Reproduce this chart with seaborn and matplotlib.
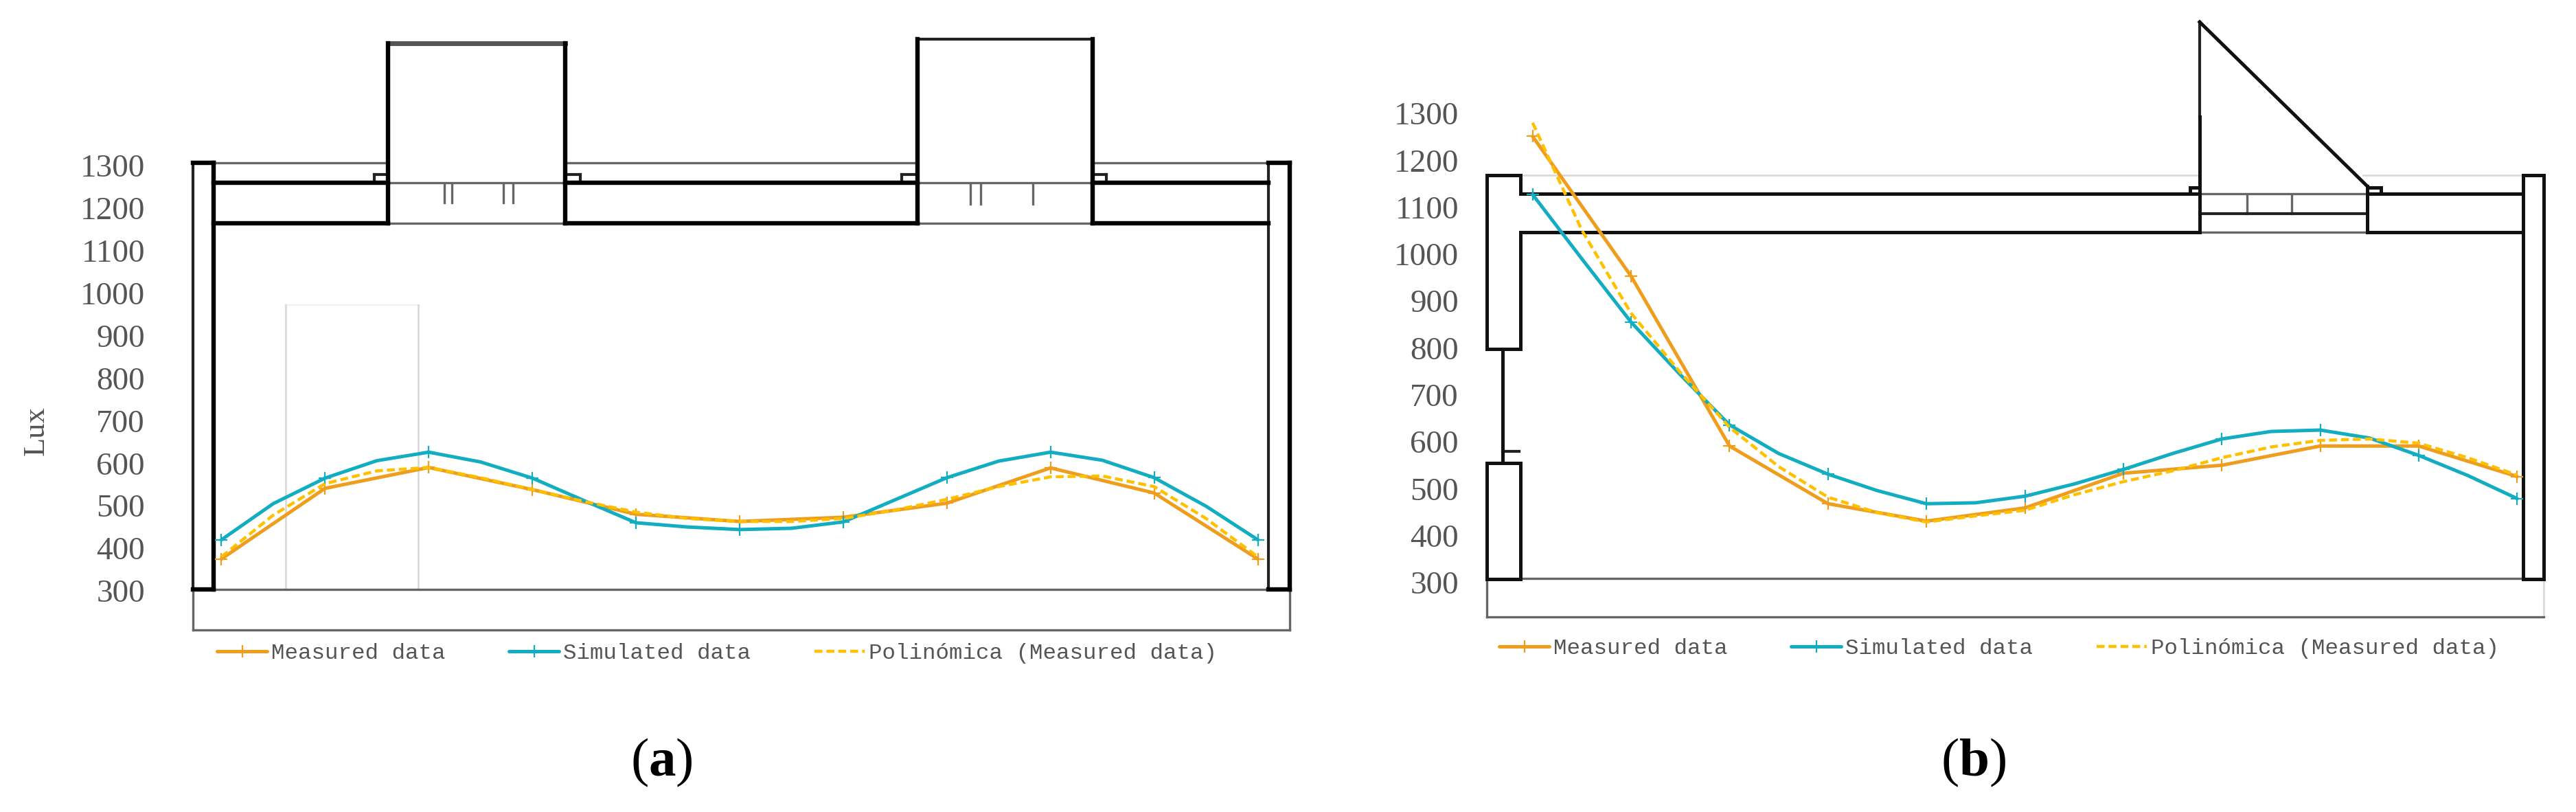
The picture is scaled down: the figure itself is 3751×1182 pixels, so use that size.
# Daylight measurements under two roof types: lux curves over the building section

import matplotlib
matplotlib.use("Agg")
import matplotlib.pyplot as plt
import seaborn as sns

# Measuring points along the room
points = [1, 2, 3, 4, 5, 6, 7, 8, 9, 10, 11]
points_half = [1, 1.5, 2, 2.5, 3, 3.5, 4, 4.5, 5, 5.5, 6, 6.5, 7, 7.5, 8, 8.5, 9, 9.5, 10, 10.5, 11]
lux_ticks = [300, 400, 500, 600, 700, 800, 900, 1000, 1100, 1200, 1300]

# Panel (a), values
measured_a = [375, 541, 590, 538, 480, 463, 473, 506, 589, 530, 375]
simulated_a = [420, 505, 565, 606, 626, 603, 565, 512, 460, 450, 444, 447, 462, 514, 566, 605, 626, 607, 566, 499, 420]
poly_a = [380, 478, 552, 582, 590, 566, 538, 510, 485, 470, 463, 463, 470, 490, 515, 545, 568, 570, 545, 470, 380]

# Panel (b)
measured_b = [1251, 953, 591, 468, 431, 459, 533, 550, 591, 591, 526]
simulated_b = [1127, 990, 855, 743, 636, 575, 531, 496, 468, 470, 484, 510, 541, 575, 606, 622, 625, 608, 571, 528, 479]
poly_b = [1280, 1051, 874, 748, 631, 547, 482, 449, 429, 442, 454, 487, 515, 538, 566, 589, 603, 606, 597, 566, 529]

label_measured = "Measured data"
label_simulated = "Simulated data"
label_poly = "Polinómica (Measured data)"

# Building sections behind the curves, in image pixels: (x0, y0, x1, y1)
heavy_a = [
    (311, 237, 311, 858), (565, 63, 565, 325), (823, 63, 823, 325),
    (1336, 57, 1336, 325), (1591, 57, 1591, 325),
    (311, 266, 565, 266), (823, 266, 1336, 266), (1591, 266, 1847, 266),
    (311, 325, 565, 325), (823, 325, 1336, 325), (1591, 325, 1847, 325),
    (281, 237, 311, 237), (281, 858, 311, 858), (1847, 237, 1878, 237), (1847, 858, 1878, 858),
    (1878, 237, 1878, 858),
]
curbs_a = [
    (545, 254, 565, 254), (545, 254, 545, 266), (823, 254, 845, 254),
    (845, 254, 845, 266), (1313, 254, 1336, 254), (1313, 254, 1313, 266), (1591, 254, 1611, 254),
    (1611, 254, 1611, 266),
]
medium_a = [(281, 237, 281, 858), (1847, 237, 1847, 858), (1336, 57, 1591, 57)]
lantern_top_a = [(565, 63, 823, 63)]
thin_a = [
    (311, 237, 561, 237), (823, 237, 1336, 237), (1591, 237, 1847, 237),
    (565, 266, 823, 266), (1336, 266, 1591, 266), (565, 325, 823, 325), (1336, 325, 1591, 325),
    (647, 268, 647, 295), (658, 268, 658, 295), (733, 268, 733, 295), (747, 268, 747, 295),
    (1413, 268, 1413, 297), (1428, 268, 1428, 297), (1504, 268, 1504, 297),
    (281, 858, 1878, 858), (281, 917, 1878, 917), (281, 858, 281, 917), (1878, 858, 1878, 917),
]
faint_a = [(416, 444, 416, 858), (609, 444, 609, 858)]
fainter_a = [(416, 444, 609, 444)]

heavy_b = [
    (2165, 255, 2214, 255), (2165, 255, 2165, 508), (2165, 508, 2214, 508), (2214, 255, 2214, 282),
    (2214, 338, 2214, 508), (2165, 674, 2214, 674), (2165, 674, 2165, 843), (2214, 674, 2214, 843),
    (2165, 843, 2214, 843), (2188, 508, 2188, 674),
    (2214, 282, 3203, 282), (3447, 282, 3672, 282), (2214, 338, 3203, 338), (3447, 338, 3672, 338),
    (3203, 170, 3203, 338), (3447, 271, 3447, 338), (3203, 32, 3447, 271),
    (3674, 255, 3674, 843), (3704, 255, 3704, 843), (3674, 255, 3704, 255), (3674, 843, 3704, 843),
    (3189, 273, 3203, 273), (3189, 273, 3189, 282), (3447, 273, 3467, 273), (3467, 273, 3467, 282),
]
medium_b = [(3203, 32, 3203, 170), (3203, 311, 3447, 311), (2188, 657, 2212, 657)]
thin_b = [
    (3203, 282, 3447, 282),
    (3272, 284, 3272, 311), (3337, 284, 3337, 311), (3203, 338, 3447, 338), (3203, 170, 3203, 255),
    (2165, 842, 3704, 842), (2165, 898, 3704, 898), (2165, 843, 2165, 898),
]
faint_b = [(2214, 255, 3203, 255), (3441, 255, 3672, 255), (3704, 843, 3704, 898)]

W, H = 3751, 1182
sns.set_style("white")
plt.rcParams["font.family"] = ["Liberation Serif", "DejaVu Serif"]
plt.rcParams["mathtext.fontset"] = "custom"
plt.rcParams["mathtext.bf"] = "Liberation Serif:bold"
plt.rcParams["mathtext.rm"] = "Liberation Serif"

fig = plt.figure(figsize=(W / 100, H / 100), dpi=100, facecolor="white")

# Full-figure layer in pixels for the section drawings and panel letters
bg = fig.add_axes([0, 0, 1, 1])
bg.set_xlim(0, W)
bg.set_ylim(H, 0)
bg.axis("off")


def draw_section(segments, color, width):
    for x0, y0, x1, y1 in segments:
        bg.plot([x0, x1], [y0, y1], color=color, lw=width, solid_capstyle="projecting")


draw_section(fainter_a, "#efefef", 1.6)
draw_section(faint_a + faint_b, "#d6d6d6", 1.8)
draw_section(thin_a + thin_b, "#666666", 2.4)
draw_section(lantern_top_a, "#555555", 5)
draw_section(medium_a + medium_b, "#222222", 3)
draw_section(curbs_a, "#222222", 3)
draw_section(heavy_a, "black", 4.6)
draw_section(heavy_b, "#111111", 3.6)


def draw_panel(left, right, bottom, top, measured, simulated, poly, legend_x, legend_y):
    ax = fig.add_axes([left / W, 1 - bottom / H, (right - left) / W, (bottom - top) / H])
    ax.patch.set_alpha(0)
    sns.lineplot(x=points, y=measured, ax=ax, color="#ee9d1c", linewidth=3.6, marker="+", markersize=13,
                 markeredgewidth=1.6, markeredgecolor="#ee9d1c", label=label_measured, errorbar=None)
    sns.lineplot(x=points_half, y=simulated, ax=ax, color="#12adc1", linewidth=3.6, marker="+", markersize=13,
                 markeredgewidth=1.6, markeredgecolor="#12adc1", markevery=2, label=label_simulated, errorbar=None)
    sns.lineplot(x=points_half, y=poly, ax=ax, color="#ffc000", linewidth=3.2, linestyle=(0, (2.6, 1.3)),
                 label=label_poly, errorbar=None)
    ax.set_xlim(0.5, 11.5)
    ax.set_ylim(300, 1300)
    ax.set_xticks([])
    ax.set_yticks(lux_ticks)
    ax.tick_params(axis="y", length=0, pad=26, labelsize=34, labelcolor="#555555")
    sns.despine(ax=ax, left=True, bottom=True)
    ax.legend(loc="center left", bbox_to_anchor=(legend_x, legend_y), bbox_transform=bg.transData,
              ncol=3, frameon=False, borderpad=0, borderaxespad=0, handlelength=2.25, handletextpad=0.18,
              columnspacing=2.85, numpoints=1,
              prop={"family": "Liberation Mono", "size": 23.4}, labelcolor="#555555")
    return ax


ax_a = draw_panel(247, 1907, 860, 241, measured_a, simulated_a, poly_a, 316, 951)
ax_b = draw_panel(2160, 3737, 848, 165, measured_b, simulated_b, poly_b, 2183, 944)

ax_a.set_ylabel("Lux", fontsize=32, color="#555555")
ax_a.yaxis.set_label_coords(73, 627, transform=bg.transData)

bg.text(963, 1110, r"($\mathbf{a}$)", fontsize=57, ha="center", va="center", color="black")
bg.text(2874, 1110, r"($\mathbf{b}$)", fontsize=57, ha="center", va="center", color="black")

fig.savefig("out.png", dpi=100, facecolor="white")
